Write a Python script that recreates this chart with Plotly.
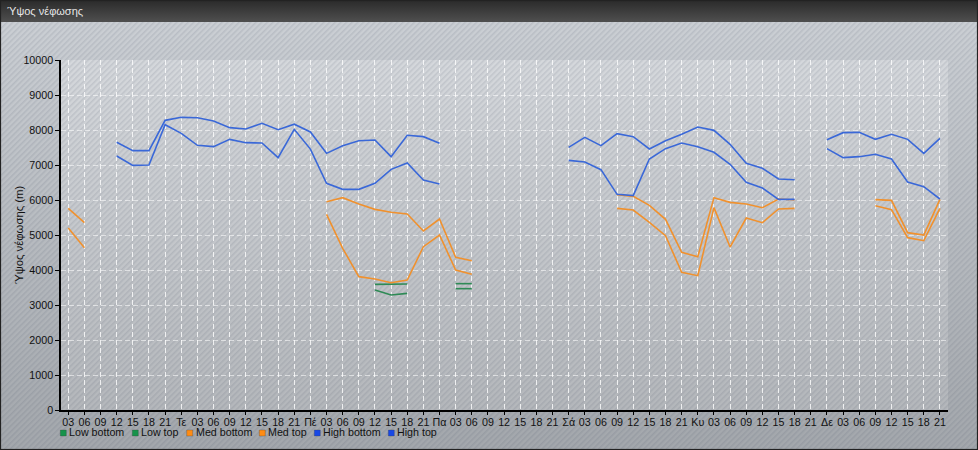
import base64
import plotly.graph_objects as go

# ---------------- data ----------------
hours = ["03", "06", "09", "12", "15", "18", "21"]
day_labels = ["Τε", "Πέ", "Πα", "Σά", "Κυ", "Δε"]

N = None
low_bottom = [N]*19 + [3429, 3286, 3333, N, N, 3467, 3467] + [N]*29
low_top    = [N]*19 + [3590, 3590, 3600, N, N, 3610, 3610] + [N]*29

med_bottom = ([5200, 4638] + [N]*14 +
              [5590, 4619, 3810, 3743, 3638, 3714, 4667, 5000, 4000, 3876] + [N]*8 +
              [5762, 5714, 5362, 4981, 3933, 3838, 5781, 4657, 5486, 5352, 5743, 5762] + [N]*4 +
              [5838, 5724, 4924, 4838, 5762])
med_top    = ([5762, 5352] + [N]*14 +
              [5952, 6067, 5886, 5733, 5648, 5600, 5114, 5457, 4362, 4267] + [N]*8 +
              [6152, 6105, 5848, 5448, 4505, 4381, 6067, 5933, 5886, 5781, 6029, 6000] + [N]*4 +
              [6010, 5990, 5067, 5000, 6019])

high_bottom = ([N]*3 +
               [7257, 6990, 7000, 8152, 7905, 7562, 7524, 7733, 7638, 7629, 7210, 8019, 7455,
                6476, 6305, 6305, 6476, 6876, 7057, 6571, 6457] + [N]*7 +
               [7133, 7086, 6867, 6162, 6124, 7171, 7467, 7629, 7524, 7362, 7019, 6505, 6343,
                6019, 6019] + [N] +
               [7467, 7210, 7238, 7305, 7171, 6514, 6381, 6029])
high_top    = ([N]*3 +
               [7650, 7410, 7410, 8276, 8362, 8352, 8257, 8067, 8029, 8190, 8010, 8165, 7945,
                7333, 7552, 7695, 7714, 7238, 7848, 7810, 7619] + [N]*7 +
               [7505, 7790, 7552, 7895, 7810, 7457, 7695, 7876, 8086, 7990, 7590, 7048, 6905,
                6600, 6580] + [N] +
               [7724, 7924, 7933, 7733, 7876, 7733, 7333, 7762])

series_names = ["Low bottom", "Low top", "Med bottom", "Med top", "High bottom", "High top"]
series_values = [low_bottom, low_top, med_bottom, med_top, high_bottom, high_top]

# tick labels
tick_text = list(hours)
for d in day_labels:
    tick_text += [d] + hours
tick_vals = list(range(len(tick_text)))

# ---------------- style ----------------
W, H = 978, 450
ML, MR, MT, MB = 61, 30, 60, 40
PW, PH = W - ML - MR, H - MT - MB

line_colors = ["#2e8a55", "#2e8a55", "#f0912e", "#f0912e", "#3a68d8", "#3a68d8"]
legend_colors = ["#17934b", "#17934b", "#ff8c14", "#ff8c14", "#1748e6", "#1748e6"]
FONT = "Liberation Sans, Arial, sans-serif"
FS = 10.7

svg = f'''<svg xmlns="http://www.w3.org/2000/svg" width="{W}" height="{H}" viewBox="0 0 {W} {H}">
<defs>
<linearGradient id="bg" x1="0" y1="0" x2="0" y2="1"><stop offset="0" stop-color="#cdd1d6"/><stop offset="1" stop-color="#a3a7ac"/></linearGradient>
<linearGradient id="pa" x1="0" y1="0" x2="0" y2="1"><stop offset="0" stop-color="#d5d8dc"/><stop offset="1" stop-color="#b4b7bb"/></linearGradient>
<linearGradient id="tb" x1="0" y1="0" x2="0" y2="1"><stop offset="0" stop-color="#2a2a2a"/><stop offset="1" stop-color="#4f4f4f"/></linearGradient>
<pattern id="st" width="4" height="4" patternUnits="userSpaceOnUse" patternTransform="rotate(45)"><rect width="1.6" height="4" fill="rgba(70,80,100,0.13)"/></pattern>
</defs>
<rect width="{W}" height="{H}" fill="url(#bg)"/>
<rect x="{ML}" y="{MT}" width="{PW}" height="{PH}" fill="url(#pa)"/>
<rect width="{W}" height="{H}" fill="url(#st)"/>
<rect width="{W}" height="22" fill="url(#tb)"/>
<rect x="0.5" y="0.5" width="{W-1}" height="{H-1}" fill="none" stroke="#222" stroke-width="1.2"/>
</svg>'''
svg_uri = "data:image/svg+xml;base64," + base64.b64encode(svg.encode("utf-8")).decode()

fig = go.Figure()
for name, vals, col in zip(series_names, series_values, line_colors):
    fig.add_trace(go.Scatter(
        x=tick_vals, y=vals, name=name, mode="lines",
        line=dict(color=col, width=1.6), connectgaps=False, showlegend=False,
    ))

# legend entries: coloured square + text
legend_px = [60.3, 132.3, 186.7, 259.3, 314.3, 388.3]
LEG_Y = 433
for name, col, px in zip(series_names, legend_colors, legend_px):
    fig.add_shape(
        type="rect", xref="paper", yref="paper",
        x0=(px - ML) / PW, x1=(px + 6 - ML) / PW,
        y0=-(LEG_Y + 3 - MT - PH) / PH, y1=-(LEG_Y - 3 - MT - PH) / PH,
        fillcolor=col, line=dict(color="rgba(60,60,60,0.5)", width=0.6),
    )
    fig.add_annotation(
        x=(px + 7 - ML) / PW, y=-(LEG_Y - 1 - MT - PH) / PH, xref="paper", yref="paper",
        xanchor="left", yanchor="middle", showarrow=False, text=name,
        font=dict(family=FONT, size=FS, color="#111"),
    )

# y-axis title
fig.add_annotation(
    x=(19 - ML) / PW, y=0.5, xref="paper", yref="paper", textangle=-90,
    showarrow=False, text="Ύψος νέφωσης (m)", xanchor="center", yanchor="middle",
    font=dict(family=FONT, size=11.3, color="#111"),
)

fig.add_layout_image(dict(
    source=svg_uri, xref="paper", yref="paper",
    x=-ML / PW, y=1 + MT / PH, sizex=W / PW, sizey=H / PH,
    xanchor="left", yanchor="top", sizing="stretch", layer="below",
))

fig.update_layout(
    width=W, height=H, autosize=False,
    margin=dict(l=ML, r=MR, t=MT, b=MB, pad=0),
    paper_bgcolor="#b8bcc1", plot_bgcolor="rgba(0,0,0,0)",
    font=dict(family=FONT, size=FS, color="#111"),
    title=dict(text="Ύψος νέφωσης", xref="container", yref="container",
               x=7 / W, y=1 - 11 / H, xanchor="left", yanchor="middle",
               font=dict(family=FONT, size=11, color="#e6e6e6")),
    showlegend=False,
    hovermode=False,
    xaxis2=dict(overlaying="x", matches="x", side="bottom", anchor="y",
                tickvals=tick_vals, ticks="inside", ticklen=3, tickcolor="#000",
                tickwidth=1, showticklabels=False, showgrid=False, showline=False,
                zeroline=False),
)
fig.update_xaxes(
    range=[-0.45, 54.5], tickvals=tick_vals, ticktext=tick_text, tickangle=0,
    showline=True, linecolor="#000", linewidth=1.5,
    ticks="outside", ticklen=3, tickcolor="#000", tickwidth=1,
    ticklabelstandoff=-2,
    showgrid=True, gridcolor="rgba(255,255,255,0.55)", gridwidth=1, griddash="5px,3px",
    zeroline=False, tickfont=dict(family=FONT, size=FS, color="#111"),
    selector=dict(anchor="y") if False else None,
)
fig.update_layout(xaxis2=dict(range=[-0.45, 54.5]))
fig.update_yaxes(
    range=[0, 10000], dtick=1000, tick0=0, tickformat="d",
    showline=True, linecolor="#000", linewidth=1.5,
    ticks="outside", ticklen=4, tickcolor="#000", tickwidth=1,
    showgrid=True, gridcolor="rgba(255,255,255,0.55)", gridwidth=1, griddash="5px,3px",
    zeroline=False, tickfont=dict(family=FONT, size=FS, color="#111"),
)
# invisible trace so the tick-only overlay axis is drawn
fig.add_trace(go.Scatter(x=[tick_vals[0]], y=[None], xaxis="x2", yaxis="y",
                         mode="lines", showlegend=False, hoverinfo="skip"))

fig.write_html("out.html", config={"displayModeBar": False},
               post_script="document.body.style.margin='0';document.body.style.overflow='hidden';")
